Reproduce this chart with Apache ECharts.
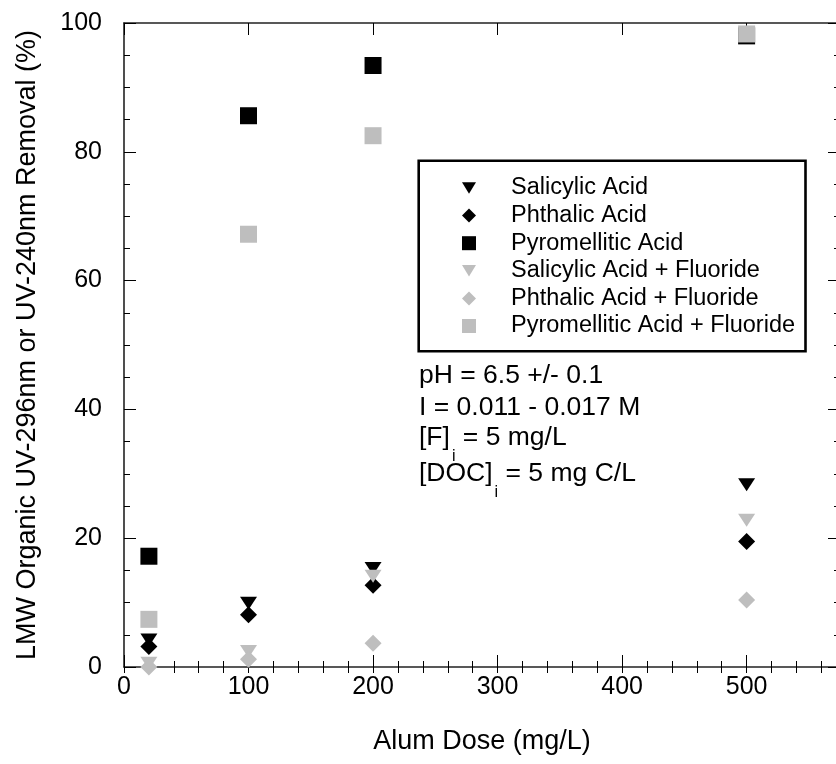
<!DOCTYPE html>
<html>
<head>
<meta charset="utf-8">
<script src="https://cdn.jsdelivr.net/npm/echarts@6/dist/echarts.min.js"></script>
<style>html,body{margin:0;padding:0;background:#fff}#c{width:836px;height:764px}</style>
</head>
<body>
<div id="c"></div>
<script>
// ---- data ----
const doses = [20, 100, 200, 500];
const salicylic = [4.2, 9.9, 15.3, 28.3];
const phthalic = [3.2, 8.1, 12.7, 19.5];
const pyromellitic = [17.2, 85.6, 93.4, 98.0];
const salicylicF = [0.6, 2.4, 14.1, 22.8];
const phthalicF = [0.0, 1.2, 3.7, 10.4];
const pyromelliticF = [7.4, 67.2, 82.5, 98.3];
const seriesNames = ['Salicylic Acid', 'Phthalic Acid', 'Pyromellitic Acid',
  'Salicylic Acid + Fluoride', 'Phthalic Acid + Fluoride', 'Pyromellitic Acid + Fluoride'];
const xTickLabels = [0, 100, 200, 300, 400, 500];
const yTickLabels = [0, 20, 40, 60, 80, 100];
const noteLines = [
  ['pH = 6.5 +/- 0.1', '', ''],
  ['I = 0.011 - 0.017 M', '', ''],
  ['[F]', 'i', ' = 5 mg/L'],
  ['[DOC]', 'i', ' = 5 mg C/L']
];

const FONT = '"Liberation Sans", Arial, Helvetica, sans-serif';
const BLACK = '#000000';
const GREY = '#bebebe';
const DOWN_TRI = 'path://M0,0L16,0L8,13Z';

const chart = echarts.init(document.getElementById('c'), null, {renderer: 'canvas'});

const seriesVals = [salicylic, phthalic, pyromellitic, salicylicF, phthalicF, pyromelliticF];
const symbols = ['triangle', 'diamond', 'rect', 'triangle', 'diamond', 'rect'];
const sizes = [[17, 13], 17, 17, [17, 13], 17, 17];
const colors = [BLACK, BLACK, BLACK, GREY, GREY, GREY];

const series = seriesNames.map((name, k) => ({
  name: name,
  type: 'scatter',
  xAxisIndex: 0,
  yAxisIndex: 0,
  symbol: symbols[k],
  symbolSize: sizes[k],
  symbolRotate: symbols[k] === 'triangle' ? 180 : 0,
  itemStyle: {color: colors[k], opacity: 1},
  emphasis: {disabled: true},
  z: 3 + k,
  data: doses.map((d, i) => [d, seriesVals[k][i]])
}));

const axisLineStyle = {color: '#222', width: 1.6};
function xAxisMajor(pos, withLabels) {
  return {
    type: 'value', position: pos, min: 0, max: 575, interval: 100,
    axisLine: {show: true, onZero: false, lineStyle: axisLineStyle},
    axisTick: {show: true, inside: true, length: 12, lineStyle: {color: '#000', width: 1}},
    axisLabel: {show: withLabels, margin: 8, fontSize: 25, color: '#000', fontFamily: FONT,
      formatter: v => xTickLabels.indexOf(v) >= 0 ? String(v) : ''},
    splitLine: {show: false},
    name: withLabels ? 'Alum Dose (mg/L)' : '',
    nameLocation: 'middle', nameGap: 61,
    nameTextStyle: {fontSize: 27, color: '#000', fontFamily: FONT}
  };
}
function xAxisMinor(pos) {
  return {
    type: 'value', position: pos, min: 0, max: 575, interval: 20,
    axisLine: {show: false},
    axisTick: {show: true, inside: true, length: 6, lineStyle: {color: '#000', width: 1}},
    axisLabel: {show: false},
    splitLine: {show: false}
  };
}
function yAxisDef(pos, withLabels) {
  return {
    type: 'value', position: pos, min: 0, max: 100, interval: 20,
    axisLine: {show: true, onZero: false, lineStyle: axisLineStyle},
    axisTick: {show: true, inside: true, length: 12, lineStyle: {color: '#000', width: 1}},
    minorTick: {show: true, splitNumber: 4, length: 6, lineStyle: {color: '#000', width: 1}},
    axisLabel: {show: withLabels, margin: 22, fontSize: 25, color: '#000', fontFamily: FONT,
      formatter: v => yTickLabels.indexOf(v) >= 0 ? String(v) : ''},
    splitLine: {show: false},
    minorSplitLine: {show: false},
    name: withLabels ? 'LMW Organic UV-296nm or UV-240nm Removal (%)' : '',
    nameLocation: 'middle', nameGap: 83, nameRotate: 90,
    nameTextStyle: {fontSize: 27, color: '#000', fontFamily: FONT}
  };
}

// annotation text (positioned with measured widths for subscripts)
const ctx = document.createElement('canvas').getContext('2d');
function tw(text, size) { ctx.font = size + 'px ' + FONT; return ctx.measureText(text).width; }
const NOTE_SIZE = 26.5, SUB_SIZE = 16;
const baselines = [385, 416.5, 447, 482.7];
const noteX = 419;
const graphics = [{
  type: 'rect', silent: true, z: 10,
  shape: {x: 418.7, y: 160.7, width: 386.8, height: 190.5},
  style: {fill: null, stroke: '#000', lineWidth: 2.6}
}];
noteLines.forEach((parts, i) => {
  const yMid = baselines[i] - 0.3465 * NOTE_SIZE;
  const ySub = baselines[i] + 15.5 - 0.3465 * SUB_SIZE;
  let x = noteX;
  graphics.push({type: 'text', x: x, y: yMid, z: 10, silent: true,
    style: {text: parts[0], fontSize: NOTE_SIZE, fontFamily: FONT, fill: '#000', align: 'left', verticalAlign: 'middle'}});
  if (parts[1]) {
    x += tw(parts[0], NOTE_SIZE) + 2;
    graphics.push({type: 'text', x: x, y: ySub, z: 10, silent: true,
      style: {text: parts[1], fontSize: SUB_SIZE, fontFamily: FONT, fill: '#000', align: 'left', verticalAlign: 'middle'}});
    x += tw(parts[1], SUB_SIZE);
    graphics.push({type: 'text', x: x, y: yMid, z: 10, silent: true,
      style: {text: parts[2], fontSize: NOTE_SIZE, fontFamily: FONT, fill: '#000', align: 'left', verticalAlign: 'middle'}});
  }
});

const option = {
  backgroundColor: '#ffffff',
  animation: false,
  grid: {left: 124, top: 23, width: 716, height: 644, containLabel: false, outerBoundsMode: 'none'},
  xAxis: [xAxisMajor('bottom', true), xAxisMinor('bottom'), xAxisMajor('top', false), xAxisMinor('top')],
  yAxis: [yAxisDef('left', true), yAxisDef('right', false)],
  legend: {
    show: true, orient: 'vertical', left: 457, top: 171,
    itemWidth: 14, itemHeight: 14, itemGap: 3.6,
    selectedMode: false,
    data: seriesNames.map((n, k) => symbols[k] === 'triangle' ? {name: n, icon: DOWN_TRI} : {name: n}),
    textStyle: {fontSize: 23.5, color: '#000', fontFamily: FONT, lineHeight: 23, padding: [0, 0, 0, 30]}
  },
  graphic: graphics,
  series: series
};
chart.setOption(option);
</script>
</body>
</html>
